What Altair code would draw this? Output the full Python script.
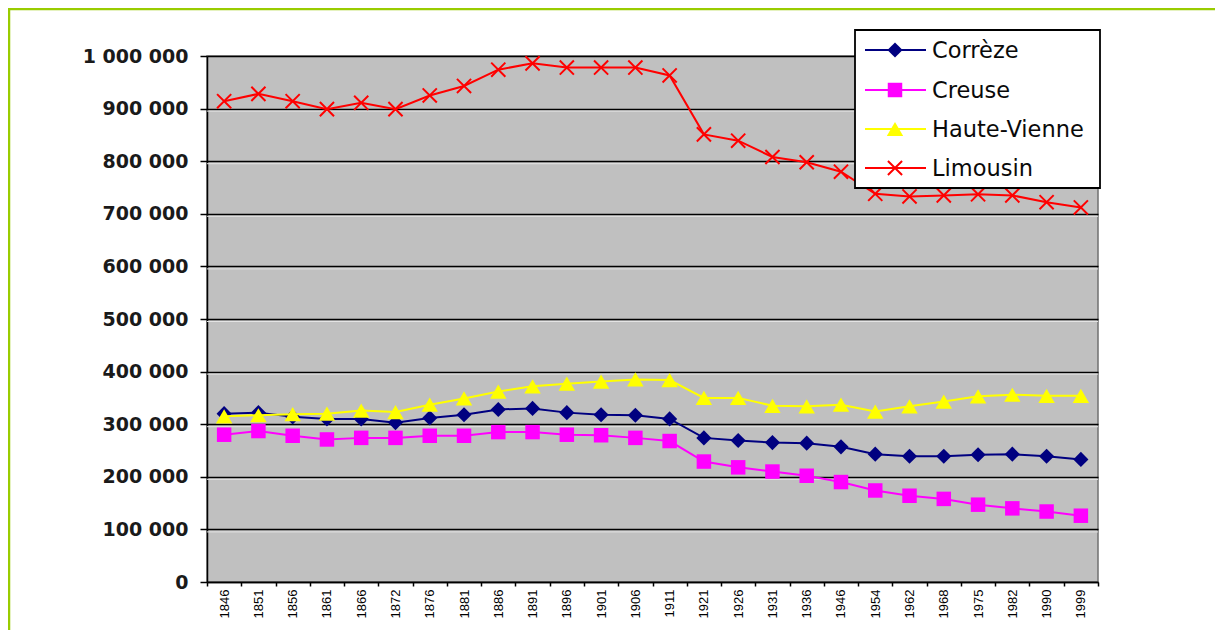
import altair as alt
import pandas as pd

years = ["1846", "1851", "1856", "1861", "1866", "1872", "1876", "1881", "1886",
         "1891", "1896", "1901", "1906", "1911", "1921", "1926", "1931", "1936",
         "1946", "1954", "1962", "1968", "1975", "1982", "1990", "1999"]

series = ["Corrèze", "Creuse", "Haute-Vienne", "Limousin"]

correze = [320000, 322000, 314000, 310000, 310000, 303000, 312000, 318000, 328000,
           330000, 322000, 318000, 317000, 310000, 274000, 269000, 265000, 264000,
           257000, 243000, 239000, 239000, 242000, 243000, 239000, 233000]
creuse = [280000, 287000, 278000, 271000, 274000, 274000, 278000, 278000, 285000,
          285000, 280000, 279000, 274000, 268000, 229000, 218000, 210000, 202000,
          190000, 174000, 164000, 158000, 147000, 140000, 134000, 126000]
haute_vienne = [315000, 317000, 319000, 320000, 326000, 323000, 337000, 349000, 362000,
                372000, 377000, 381000, 385000, 384000, 350000, 350000, 335000, 334000,
                337000, 324000, 334000, 343000, 353000, 356000, 354000, 354000]
limousin = [914000, 928000, 914000, 899000, 911000, 899000, 925000, 943000, 974000,
            986000, 978000, 978000, 978000, 963000, 851000, 839000, 808000, 798000,
            780000, 738000, 733000, 735000, 737000, 735000, 722000, 712000]

y_ticks = [0, 100000, 200000, 300000, 400000, 500000, 600000, 700000, 800000, 900000, 1000000]

colors = ["#000080", "#FF00FF", "#FFFF00", "#FF0000"]
shapes = ["diamond", "square", "triangle-up", "M-1,-1L1,1M-1,1L1,-1"]
sizes = [230, 210, 270, 200]
filled = [True, True, True, False]

all_values = [correze, creuse, haute_vienne, limousin]

W, H = 891, 526

x_enc = alt.X(
    "year:O",
    sort=years,
    bandPosition=0.5,
    scale=alt.Scale(type="band", domain=years, paddingInner=0, paddingOuter=0),
    axis=alt.Axis(
        title=None, labelAngle=270, tickBand="extent", grid=False,
        domainColor="#000000", domainWidth=1.5, tickColor="#000000", tickSize=4,
        tickWidth=1.5, labelFont="Liberation Sans", labelFontSize=13,
        labelColor="#000000", labelPadding=3,
    ),
)
y_axis = alt.Axis(
    title=None, values=y_ticks, grid=True, gridColor="#000000", gridWidth=1.3,
    domainColor="#000000", domainWidth=1.5, tickColor="#000000", tickSize=7,
    tickWidth=1.5, labelFont="DejaVu Sans", labelFontWeight="bold",
    labelFontSize=19, labelColor="#1a1a1a", labelPadding=12,
    labelExpr="replace(format(datum.value, ','), regexp(',', 'g'), ' ')",
)
y_scale = alt.Scale(domain=[0, 1000000], nice=False, zero=True)
y_enc = alt.Y("pop:Q", scale=y_scale, axis=y_axis)

layers = []

# light "3D" line under each gridline
grid_df = pd.DataFrame({"pop": y_ticks[1:-1]})
layers.append(
    alt.Chart(grid_df).mark_rule(color="#E4E4E4", strokeWidth=1, yOffset=2.5).encode(y=y_enc)
)

for name, vals, col, shp, sz, fl in zip(series, all_values, colors, shapes, sizes, filled):
    df = pd.DataFrame({"year": years, "pop": vals, "serie": name})
    base = alt.Chart(df)
    layers.append(base.mark_line(color=col, strokeWidth=2).encode(x=x_enc, y=y_enc))
    if fl:
        pt = base.mark_point(shape=shp, size=sz, filled=True, color=col, opacity=1)
    else:
        pt = base.mark_point(shape=shp, size=sz, filled=False, color=col, strokeWidth=2, opacity=1)
    layers.append(pt.encode(x=x_enc, y=y_enc))

one = pd.DataFrame({"a": [0]})

# legend box
layers.append(
    alt.Chart(one).mark_rect(fill="#FFFFFF", stroke="#000000", strokeWidth=1.8).encode(
        x=alt.value(648), x2=alt.value(893), y=alt.value(-26), y2=alt.value(132)
    )
)
row_y = [-6, 34, 73, 112]
for name, col, shp, sz, fl, ry in zip(series, colors, shapes, sizes, filled, row_y):
    layers.append(
        alt.Chart(one).mark_rule(color=col, strokeWidth=2).encode(
            x=alt.value(658), x2=alt.value(719), y=alt.value(ry)
        )
    )
    if fl:
        pm = alt.Chart(one).mark_point(shape=shp, size=sz, filled=True, color=col, opacity=1)
    else:
        pm = alt.Chart(one).mark_point(shape=shp, size=sz, filled=False, color=col, strokeWidth=2, opacity=1)
    layers.append(pm.encode(x=alt.value(688), y=alt.value(ry)))
    layers.append(
        alt.Chart(pd.DataFrame({"s": [name]})).mark_text(
            align="left", baseline="middle", font="DejaVu Sans", fontSize=22.5, color="#0a0a0a"
        ).encode(x=alt.value(725), y=alt.value(ry + 1), text="s:N")
    )

# green frame
layers.append(
    alt.Chart(one).mark_rule(color="#99CC00", strokeWidth=2.5).encode(
        x=alt.value(-199), x2=alt.value(1010), y=alt.value(-47)
    )
)
layers.append(
    alt.Chart(one).mark_rule(color="#99CC00", strokeWidth=2.5).encode(
        x=alt.value(-198), y=alt.value(-48), y2=alt.value(600)
    )
)

chart = alt.layer(*layers).properties(
    width=W, height=H,
    padding={"left": 199, "top": 48, "right": 117, "bottom": 48},
    autosize=alt.AutoSizeParams(type="none"),
    background="#FFFFFF",
).configure_view(fill="#C0C0C0", stroke="#707070", strokeWidth=1.5)

chart.save("out.html", embed_options={"renderer": "svg", "actions": False})
